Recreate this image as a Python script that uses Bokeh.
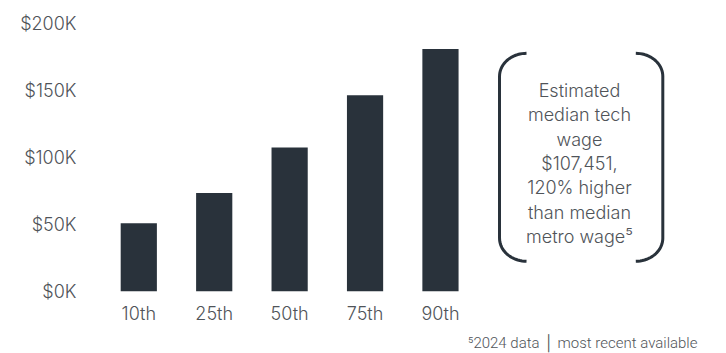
import numpy as np
from bokeh.plotting import figure
from bokeh.models import Range1d, FixedTicker, Title
from bokeh.core.properties import value
from bokeh.embed import file_html
from bokeh.resources import INLINE

# ---- data ----
percentiles = ["10th", "25th", "50th", "75th", "90th"]
wages = [51000, 73500, 107451, 146500, 181000]
y_ticks = [0, 50000, 100000, 150000, 200000]
y_tick_labels = ["$0K", "$50K", "$100K", "$150K", "$200K"]
note_lines = ["Estimated", "median tech", "wage", "$107,451,", "120% higher",
              "than median", "metro wage\u2075"]
footnote = "\u20752024 data \u2502 most recent available"

FONT = "Inter Light, Inter"
TXT = "#505459"
BAR = "#29323b"

x = list(range(len(percentiles)))

p = figure(frame_width=606, frame_height=284, min_border_left=91, min_border_right=20,
           min_border_top=7, min_border_bottom=59,
           x_range=Range1d(-0.627, 7.408), y_range=Range1d(0, 212000),
           output_backend="svg", toolbar_location=None)
p.outline_line_color = None
p.grid.grid_line_color = None
p.background_fill_color = "white"
p.border_fill_color = "white"

p.vbar(x=x, top=wages, width=0.48, fill_color=BAR, line_color=None)

# axes
p.xaxis.ticker = FixedTicker(ticks=x)
p.xaxis.major_label_overrides = {i: s for i, s in zip(x, percentiles)}
p.yaxis.ticker = FixedTicker(ticks=y_ticks)
p.yaxis.major_label_overrides = {t: s for t, s in zip(y_ticks, y_tick_labels)}
for ax in (p.xaxis[0], p.yaxis[0]):
    ax.axis_line_color = None
    ax.major_tick_line_color = None
    ax.minor_tick_line_color = None
    ax.major_label_text_font = FONT
    ax.major_label_text_font_size = "18px"
    ax.major_label_text_color = TXT
p.xaxis.major_label_standoff = 5
p.yaxis.major_label_standoff = 9

# bracket box (decoration)
bl, br = 4.783, 6.948
bt, bb = 177800, 22600
rx, ry = 0.358, 17200
t = np.linspace(0, np.pi / 2, 20)
lx = np.concatenate([bl + rx - rx * np.sin(t), [bl, bl], bl + rx - rx * np.cos(t)])
ly = np.concatenate([bt - ry + ry * np.cos(t), [bt - ry, bb + ry], bb + ry - ry * np.sin(t)])
rxs = np.concatenate([br - rx + rx * np.sin(t), [br, br], br - rx + rx * np.cos(t)])
p.line(lx, ly, line_color=BAR, line_width=3)
p.line(rxs, ly, line_color=BAR, line_width=3)

cx = 5.843
y0 = 150000
dy = 18150
ys = [y0 - i * dy for i in range(len(note_lines))]
p.text(x=[cx] * len(note_lines), y=ys, text=note_lines, text_font=value(FONT),
       text_font_size="18px", text_color=TXT, text_align="center", text_baseline="middle")

p.add_layout(Title(text=footnote, align="right", text_font="Roboto Light, Roboto",
                   text_font_size="15px", text_font_style="normal", text_color=TXT,
                   standoff=10), "below")

open("out.html", "w").write(file_html(p, INLINE))
